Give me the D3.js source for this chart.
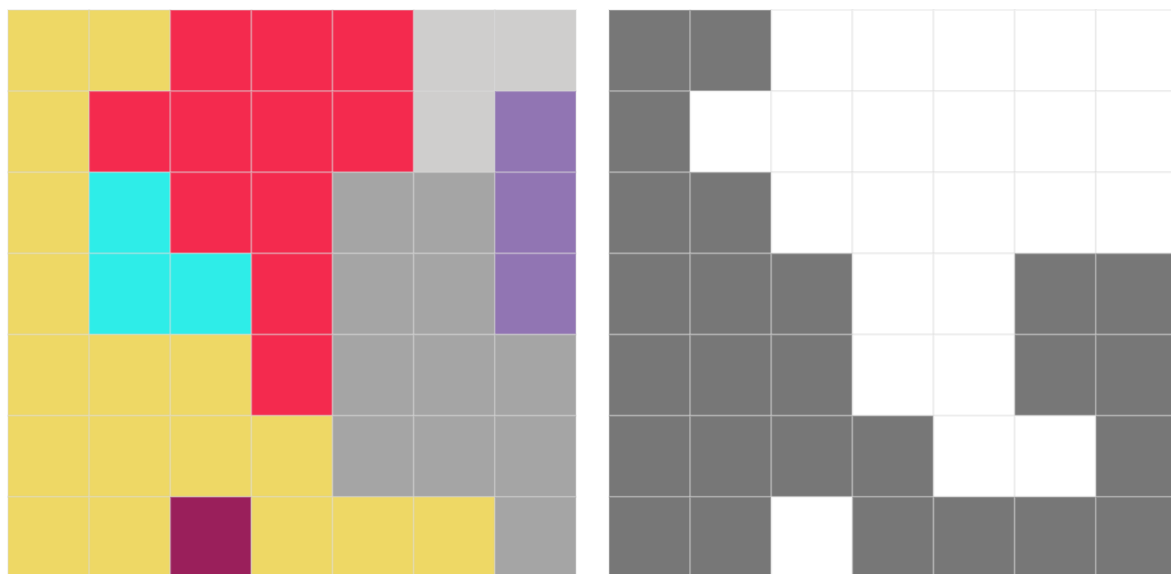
<!DOCTYPE html>
<html>
<head>
<meta charset="utf-8">
<script src="https://cdn.jsdelivr.net/npm/d3@7"></script>
<style>
  body { margin: 0; background: #fff; }
  svg { display: block; }
</style>
</head>
<body>
<script>
// grid labels (rows / columns)
const rows = [0, 1, 2, 3, 4, 5, 6];
const cols = [0, 1, 2, 3, 4, 5, 6];

// left grid: category of each cell, row by row
const leftCells = [
  "Y Y R R R L L",
  "Y R R R R L P",
  "Y C R R G G P",
  "Y C C R G G P",
  "Y Y Y R G G G",
  "Y Y Y Y G G G",
  "Y Y M Y Y Y G"
];

// right grid: filled (D) or empty (W)
const rightCells = [
  "D D W W W W W",
  "D W W W W W W",
  "D D W W W W W",
  "D D D W W D D",
  "D D D W W D D",
  "D D D D W W D",
  "D D W D D D D"
];

const categories = ["Y", "R", "L", "P", "C", "G", "M", "D", "W"];
const palette = ["#eed865", "#f42a4e", "#cfcecd", "#9175b3", "#2eede8", "#a5a5a5", "#9a1f5b", "#777777", "#ffffff"];

const width = 1171, height = 574;
const gridSize = 568;

const svg = d3.select("body").append("svg")
  .attr("width", width)
  .attr("height", height);

const color = d3.scaleOrdinal().domain(categories).range(palette);

const x = d3.scaleBand().domain(cols).range([0, gridSize]);
const y = d3.scaleBand().domain(rows).range([0, gridSize]);

function toCells(grid) {
  const out = [];
  grid.forEach((line, r) => {
    line.split(" ").forEach((c, k) => out.push({ row: rows[r], col: cols[k], cat: c }));
  });
  return out;
}

function drawGrid(grid, left, top) {
  const g = svg.append("g").attr("transform", `translate(${left},${top})`);
  g.selectAll("rect")
    .data(toCells(grid))
    .enter().append("rect")
    .attr("x", d => x(d.col))
    .attr("y", d => y(d.row))
    .attr("width", x.bandwidth())
    .attr("height", y.bandwidth())
    .attr("fill", d => color(d.cat))
    .attr("stroke", "#d8d8d8")
    .attr("stroke-opacity", 0.3)
    .attr("stroke-width", 2);
}

drawGrid(leftCells, 8, 10);
drawGrid(rightCells, 609, 10);
</script>
</body>
</html>
